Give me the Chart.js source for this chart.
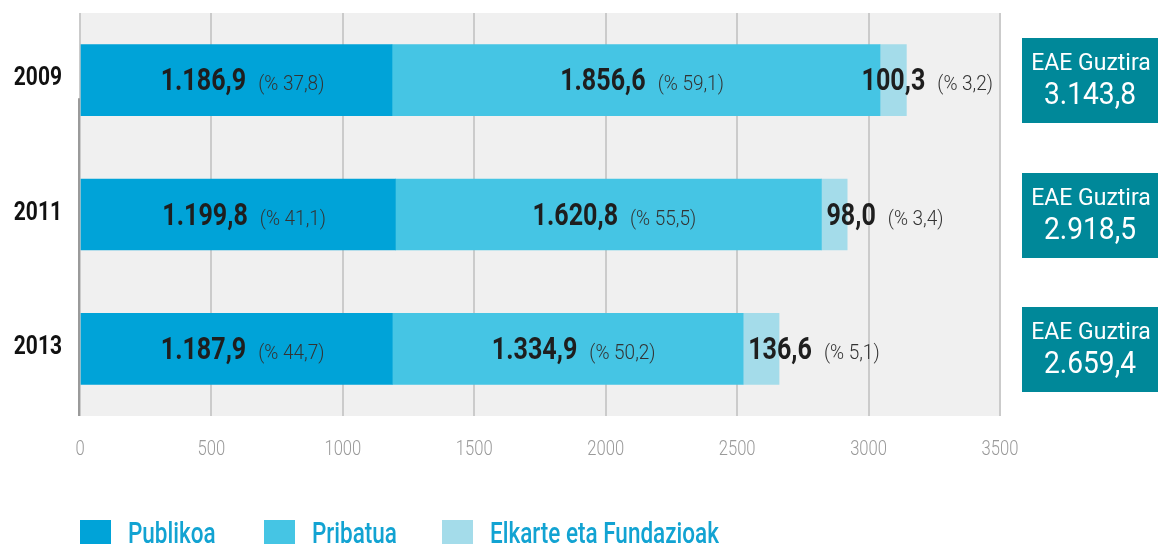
<!DOCTYPE html>
<html>
<head>
<meta charset="utf-8">
<script src="https://cdn.jsdelivr.net/npm/chart.js@4/dist/chart.umd.min.js"></script>
<style>
html,body{margin:0;padding:0;background:#fff;}
canvas{display:block;}
</style>
</head>
<body>
<canvas id="c" width="1160" height="544"></canvas>
<script>
const years = ['2009', '2011', '2013'];
const seriesNames = ['Publikoa', 'Pribatua', 'Elkarte eta Fundazioak'];
const publikoa = [1186.9, 1199.8, 1187.9];
const pribatua = [1856.6, 1620.8, 1334.9];
const elkarte = [100.3, 98.0, 136.6];
const pctPublikoa = ['37,8', '41,1', '44,7'];
const pctPribatua = ['59,1', '55,5', '50,2'];
const pctElkarte = ['3,2', '3,4', '5,1'];
const totals = ['3.143,8', '2.918,5', '2.659,4'];
const totalLabel = 'EAE Guztira';
const xTicks = [0, 500, 1000, 1500, 2000, 2500, 3000, 3500];

const colors = ['#00a3d8', '#45c5e4', '#a4dcea'];
const FONT = "Roboto, 'Liberation Sans', sans-serif";

function fmt(v) {
  const s = v.toFixed(1).split('.');
  const int = s[0].replace(/\B(?=(\d{3})+(?!\d))/g, '.');
  return int + ',' + s[1];
}
function measure(ctx, s, font, sx) {
  ctx.save(); ctx.font = font; const w = ctx.measureText(s).width * sx; ctx.restore(); return w;
}
function txt(ctx, s, x, y, font, sx, align, color) {
  ctx.save();
  ctx.font = font;
  const w = ctx.measureText(s).width * sx;
  const x0 = align === 'center' ? x - w / 2 : align === 'right' ? x - w : x;
  ctx.translate(x0, y);
  ctx.scale(sx, 1);
  ctx.textAlign = 'left';
  ctx.textBaseline = 'alphabetic';
  ctx.fillStyle = color;
  ctx.fillText(s, 0, 0);
  ctx.restore();
  return w;
}

const seriesVals = [publikoa, pribatua, elkarte];
const seriesPct = [pctPublikoa, pctPribatua, pctElkarte];

const VF = "bold 31px " + FONT, VS = 0.81;
const PF = "300 20px " + FONT, PS = 0.95;

const decor = {
  id: 'decor',
  beforeDraw(chart) {
    const {ctx, chartArea: a} = chart;
    ctx.save();
    ctx.fillStyle = '#f0f0f0';
    ctx.fillRect(a.left, a.top, a.right - a.left, a.bottom - a.top);
    ctx.restore();
  },
  afterDraw(chart) {
    const {ctx, chartArea: a} = chart;
    const xs = chart.scales.x, ys = chart.scales.y;
    ctx.save();

    // x tick labels
    xs.ticks.forEach((t, i) => {
      txt(ctx, String(t.value), xs.getPixelForTick(i), 455, "300 20px " + FONT, 0.83, 'center', '#9a9a9a');
    });
    // y tick labels
    ys.getLabels().forEach((lab, i) => {
      txt(ctx, lab, 62, ys.getPixelForValue(i) + 5, "bold 25px " + FONT, 0.84, 'right', '#111');
    });

    // left axis line
    ctx.strokeStyle = '#9a9a9a';
    ctx.lineWidth = 2;
    ctx.beginPath();
    ctx.moveTo(a.left - 1, ys.getPixelForValue(0) + 18);
    ctx.lineTo(a.left - 1, a.bottom);
    ctx.stroke();

    // segment labels
    for (let d = 0; d < 3; d++) {
      const meta = chart.getDatasetMeta(d);
      meta.data.forEach((bar, i) => {
        const val = fmt(seriesVals[d][i]);
        const pct = '(% ' + seriesPct[d][i] + ')';
        const w1 = measure(ctx, val, VF, VS);
        const w2 = measure(ctx, pct, PF, PS);
        const gap = 12;
        const tw = w1 + gap + w2;
        const left = Math.min(bar.base, bar.x);
        const right = Math.max(bar.base, bar.x);
        let x;
        if (d < 2) {
          x = (left + right) / 2 - tw / 2 + 6;
        } else {
          x = Math.min(left + 5, a.right - 7 - tw);
        }
        const yb = bar.y + 10;
        txt(ctx, val, x, yb, VF, VS, 'left', '#1e1e1e');
        txt(ctx, pct, x + w1 + gap, yb, PF, PS, 'left', '#333');
      });
    }

    // total boxes
    const meta0 = chart.getDatasetMeta(0);
    years.forEach((yr, i) => {
      const cy = meta0.data[i].y;
      const bx = a.right + 22, bw = 136, bh = 85;
      const by = Math.round(cy - 42);
      ctx.fillStyle = '#008899';
      ctx.fillRect(bx, by, bw, bh);
      txt(ctx, totalLabel, bx + bw / 2 + 1, by + 32, "23px " + FONT, 1.0, 'center', '#fff');
      txt(ctx, totals[i], bx + bw / 2, by + 66, "32px " + FONT, 0.88, 'center', '#fff');
    });

    // legend
    const lx = [80, 264, 442];
    seriesNames.forEach((n, i) => {
      ctx.fillStyle = colors[i];
      ctx.fillRect(lx[i], 520, 31, 31);
      txt(ctx, n, lx[i] + 48, 543, "500 30px " + FONT, 0.75, 'left', '#12a3d2');
    });
    ctx.restore();
  }
};

new Chart(document.getElementById('c'), {
  type: 'bar',
  data: {
    labels: years,
    datasets: seriesVals.map((v, i) => ({
      label: seriesNames[i],
      data: v,
      backgroundColor: colors[i],
      borderWidth: 0,
      barThickness: 71
    }))
  },
  options: {
    indexAxis: 'y',
    responsive: false,
    devicePixelRatio: 1,
    animation: false,
    layout: {padding: {top: 13, right: 160, left: 0, bottom: 0}},
    plugins: {legend: {display: false}, tooltip: {enabled: false}},
    scales: {
      x: {
        stacked: true,
        min: 0, max: 3500,
        afterBuildTicks(scale) { scale.ticks = xTicks.map(v => ({value: v})); },
        afterFit(scale) { scale.height = 128; },
        ticks: {display: false},
        grid: {color: '#cbcbcb', lineWidth: 2, drawTicks: false},
        border: {display: false}
      },
      y: {
        stacked: true,
        afterFit(scale) { scale.width = 80; },
        ticks: {display: false},
        grid: {display: false},
        border: {display: false}
      }
    }
  },
  plugins: [decor]
});
</script>
</body>
</html>
